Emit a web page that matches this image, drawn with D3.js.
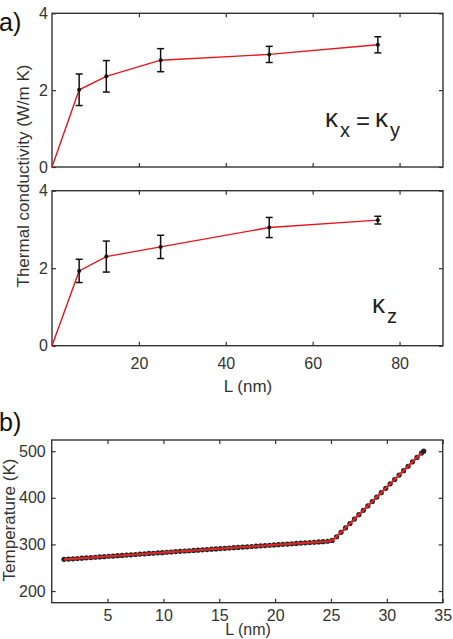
<!DOCTYPE html>
<html>
<head>
<meta charset="utf-8">
<title>Thermal conductivity and temperature profile</title>
<script src="https://cdn.jsdelivr.net/npm/d3@7"></script>
<style>
	html, body {
		margin: 0;
		padding: 0;
		background: white;
	}
	svg {
		display: block;
		font-family: "Liberation Sans", Arial, Helvetica, sans-serif;
	}
	.axis text {
		font-size: 16px;
		fill: #333;
	}
	.axis line {
		stroke: #333;
		stroke-width: 1.2;
	}
	.label {
		font-size: 17px;
		fill: #333;
	}
</style>
</head>
<body>
<div id="vis"></div>

<script>

var width = 453;
var height = 639;

// panel a: thermal conductivity vs L
var condL = [0, 6.25, 12.5, 25, 50, 75];
var kxy = [0, 2.01, 2.36, 2.78, 2.93, 3.18];
var kxyErr = [0, 0.41, 0.41, 0.30, 0.21, 0.21];
var kz = [0, 1.93, 2.30, 2.55, 3.05, 3.24];
var kzErr = [0, 0.30, 0.40, 0.30, 0.26, 0.10];
var condXTicks = [20, 40, 60, 80];
var condYTicks = [0, 2, 4];

// panel b: temperature profile
var tempL = [1.1, 1.5, 1.9, 2.3, 2.7, 3.1, 3.5, 3.9, 4.3, 4.7, 5.1, 5.5, 5.9, 6.3, 6.7, 7.1, 7.5, 7.9, 8.3, 8.7,
	9.1, 9.5, 9.9, 10.3, 10.7, 11.1, 11.5, 11.9, 12.3, 12.7, 13.1, 13.5, 13.9, 14.3, 14.7, 15.1, 15.5, 15.9, 16.3, 16.7,
	17.1, 17.5, 17.9, 18.3, 18.7, 19.1, 19.5, 19.9, 20.3, 20.7, 21.1, 21.5, 21.9, 22.3, 22.7, 23.1, 23.5, 23.9, 24.3, 24.7,
	25.1, 25.5, 25.9, 26.3, 26.7, 27.1, 27.5, 27.9, 28.3, 28.7, 29.1, 29.5, 29.9, 30.3, 30.7, 31.1, 31.5, 31.9, 32.3, 32.7,
	33.1, 33.3];
var tempK = [268.0, 268.5, 269.2, 269.8, 270.5, 271.2, 271.8, 272.5, 273.1, 273.8, 274.6, 275.1, 275.9, 276.5, 277.2, 277.8, 278.4, 279.3, 279.8, 280.6,
	281.1, 281.9, 282.4, 283.2, 283.8, 284.6, 285.1, 285.9, 286.4, 287.2, 287.7, 288.5, 289.0, 289.8, 290.4, 291.0, 291.7, 292.3, 293.0, 293.6,
	294.3, 294.9, 295.6, 296.2, 296.9, 297.6, 298.2, 298.9, 299.5, 300.2, 300.8, 301.5, 302.1, 302.8, 303.4, 304.1, 304.7, 305.4, 306.0, 306.8,
	308.5, 316.5, 326.0, 335.4, 344.9, 354.3, 363.8, 373.2, 382.7, 392.1, 401.5, 411.0, 420.4, 429.9, 439.3, 448.8, 458.2, 467.7, 477.1, 486.6,
	496.0, 500.0];
var tempXTicks = [5, 10, 15, 20, 25, 30, 35];
var tempYTicks = [200, 300, 400, 500];

var svg = d3.select("#vis").append("svg")
	.attr("width", width)
	.attr("height", height);

function frame(x, y, xTicks, yTicks, xPad, yPad, showX) {
	var g = svg.append("g");
	var x0 = x.range()[0], x1 = x.range()[1];
	var y0 = y.range()[0], y1 = y.range()[1];

	g.append("g").attr("class", "axis")
		.attr("transform", "translate(0," + y0 + ")")
		.call(d3.axisBottom(x).tickValues(xTicks).tickSize(-4).tickPadding(xPad)
			.tickFormat(showX ? d3.format("d") : ""));
	g.append("g").attr("class", "axis")
		.attr("transform", "translate(0," + y1 + ")")
		.call(d3.axisTop(x).tickValues(xTicks).tickSize(-4).tickFormat(""));
	g.append("g").attr("class", "axis")
		.attr("transform", "translate(" + x0 + ",0)")
		.call(d3.axisLeft(y).tickValues(yTicks).tickSize(-4).tickPadding(yPad).tickFormat(d3.format("d")));
	g.append("g").attr("class", "axis")
		.attr("transform", "translate(" + x1 + ",0)")
		.call(d3.axisRight(y).tickValues(yTicks).tickSize(-4).tickFormat(""));

	g.selectAll(".domain").remove();

	g.append("rect")
		.attr("x", x0)
		.attr("y", y1)
		.attr("width", x1 - x0)
		.attr("height", y0 - y1)
		.attr("fill", "none")
		.attr("stroke", "#333")
		.attr("stroke-width", 1.4);
	return g;
}

function condPanel(top, bottom, vals, errs, showX) {
	var x = d3.scaleLinear().domain([0, 90]).range([52, 443]);
	var y = d3.scaleLinear().domain([0, 4]).range([bottom, top]);

	var g = frame(x, y, condXTicks, condYTicks, 12, 4, showX);

	var pts = condL.map(function(d, i) { return {l: d, v: vals[i], e: errs[i]}; });

	g.append("path")
		.datum(pts)
		.attr("fill", "none")
		.attr("stroke", "#e8141b")
		.attr("stroke-width", 1.4)
		.attr("d", d3.line().x(function(d) { return x(d.l); }).y(function(d) { return y(d.v); }));

	var bars = g.selectAll(".err")
		.data(pts.filter(function(d) { return d.e > 0; }))
		.enter().append("g")
		.attr("class", "err")
		.attr("stroke", "#111")
		.attr("stroke-width", 1.5);

	bars.append("line")
		.attr("x1", function(d) { return x(d.l); })
		.attr("x2", function(d) { return x(d.l); })
		.attr("y1", function(d) { return y(d.v - d.e); })
		.attr("y2", function(d) { return y(d.v + d.e); });
	bars.append("line")
		.attr("x1", function(d) { return x(d.l) - 3.5; })
		.attr("x2", function(d) { return x(d.l) + 3.5; })
		.attr("y1", function(d) { return y(d.v - d.e); })
		.attr("y2", function(d) { return y(d.v - d.e); });
	bars.append("line")
		.attr("x1", function(d) { return x(d.l) - 3.5; })
		.attr("x2", function(d) { return x(d.l) + 3.5; })
		.attr("y1", function(d) { return y(d.v + d.e); })
		.attr("y2", function(d) { return y(d.v + d.e); });

	g.selectAll(".dot")
		.data(pts.filter(function(d) { return d.e > 0; }))
		.enter().append("circle")
		.attr("class", "dot")
		.attr("cx", function(d) { return x(d.l); })
		.attr("cy", function(d) { return y(d.v); })
		.attr("r", 2)
		.attr("fill", "#111");

	return g;
}

condPanel(13.3, 167, kxy, kxyErr, false);
condPanel(190.7, 345.7, kz, kzErr, true);

// kappa labels: main letter and lowered subscript as separate texts
function kappa(xPos, yPos, sub) {
	svg.append("text")
		.attr("x", xPos)
		.attr("y", yPos)
		.attr("fill", "#222")
		.style("font-size", "26px")
		.text("\u03ba");
	svg.append("text")
		.attr("x", xPos + 15)
		.attr("y", yPos + 10)
		.attr("fill", "#222")
		.style("font-size", "20px")
		.text(sub);
}
kappa(325, 127, "x");
svg.append("text")
	.attr("x", 356).attr("y", 129)
	.attr("fill", "#222")
	.style("font-size", "24px")
	.text("=");
kappa(375, 127, "y");
kappa(372, 313, "z");

svg.append("text")
	.attr("class", "label")
	.attr("transform", "translate(29,176) rotate(-90)")
	.attr("text-anchor", "middle")
	.text("Thermal conductivity (W/m K)");

svg.append("text")
	.attr("class", "label")
	.attr("x", 248).attr("y", 392)
	.attr("text-anchor", "middle")
	.text("L (nm)");

// panel b
var tx = d3.scaleLinear().domain([0, 35]).range([51.7, 442.7]);
var ty = d3.scaleLinear().domain([175, 524]).range([602.7, 440]);

var gb = frame(tx, ty, tempXTicks, tempYTicks, 7, 6, true);

var tpts = tempL.map(function(d, i) { return {l: d, t: tempK[i]}; });

gb.selectAll(".tdot")
	.data(tpts)
	.enter().append("circle")
	.attr("class", "tdot")
	.attr("cx", function(d) { return tx(d.l); })
	.attr("cy", function(d) { return ty(d.t); })
	.attr("r", 2.6)
	.attr("fill", "#222");

gb.append("path")
	.datum(tpts.slice(0, tpts.length - 1))
	.attr("fill", "none")
	.attr("stroke", "#d42a2a")
	.attr("stroke-width", 2.3)
	.attr("d", d3.line().x(function(d) { return tx(d.l); }).y(function(d) { return ty(d.t); }));

svg.append("text")
	.attr("class", "label")
	.attr("transform", "translate(15,520) rotate(-90)")
	.attr("text-anchor", "middle")
	.text("Temperature (K)");

svg.append("text")
	.attr("class", "label")
	.attr("x", 248).attr("y", 635)
	.attr("text-anchor", "middle")
	.style("font-size", "16px")
	.text("L (nm)");

// panel letters
svg.append("text")
	.attr("x", -1).attr("y", 31)
	.attr("fill", "#111")
	.style("font-size", "25px")
	.text("a)");
svg.append("text")
	.attr("x", -1).attr("y", 431)
	.attr("fill", "#111")
	.style("font-size", "25px")
	.text("b)");

</script>
</body>
</html>
